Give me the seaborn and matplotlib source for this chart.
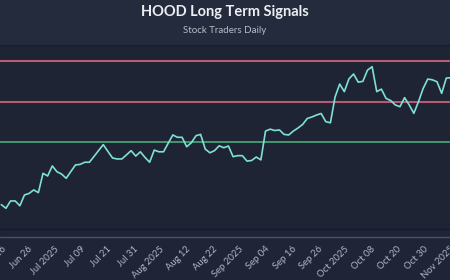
import numpy as np
import pandas as pd
import matplotlib
matplotlib.use("Agg")
import matplotlib.pyplot as plt
from matplotlib.lines import Line2D
from matplotlib.patches import Rectangle
import seaborn as sns

# ---- data ----
prices = [
    75.8, 73.9, 77.7, 77.7, 75.2, 80.8, 81.6, 83.4, 82.0, 92.0,
    90.6, 95.8, 92.8, 91.6, 89.4, 92.9, 96.3, 96.6, 97.7, 97.7,
    100.7, 103.8, 106.8, 103.3, 99.9, 99.4, 99.4, 101.5, 103.7, 100.9,
    103.1, 100.2, 97.7, 104.0, 103.1, 103.1, 107.5, 111.8, 110.6, 110.6,
    105.7, 107.8, 111.4, 112.1, 104.5, 102.6, 103.7, 106.2, 105.2, 106.1,
    100.6, 101.1, 101.1, 98.3, 98.6, 100.4, 98.9, 113.8, 114.8, 114.1,
    114.4, 112.1, 111.8, 113.8, 115.4, 117.2, 120.3, 121.1, 122.1, 122.9,
    118.7, 118.1, 131.4, 138.1, 134.2, 140.8, 143.3, 139.1, 139.5, 145.3,
    147.1, 134.2, 135.5, 130.7, 129.6, 127.3, 126.4, 131.1, 127.3, 123.0,
    129.0, 135.8, 140.7, 140.3, 139.3, 133.3, 141.2, 141.4,
]
resistance_levels = [150.0, 128.6]
support_levels = [108.1]
tick_labels = [
    "Jun 16", "Jun 26", "Jul 2025", "Jul 09", "Jul 21", "Jul 31",
    "Aug 2025", "Aug 12", "Aug 22", "Sep 2025", "Sep 04", "Sep 16",
    "Sep 26", "Oct 2025", "Oct 08", "Oct 20", "Oct 30", "Nov 2025",
]
title = "HOOD Long Term Signals"
subtitle = "Stock Traders Daily"

df = pd.DataFrame({"day": np.arange(len(prices)), "price": prices})

# ---- style ----
BG = "#1f2536"
PLOT_BG = "#1e2434"
BAND = "#242b3c"
LINE = "#7fe0d6"
RED = "#b85a72"
GREEN = "#4caa7c"
TICK = "#aeb6c6"

sns.set_theme(style="dark")
plt.rcParams["font.family"] = ["Lato", "DejaVu Sans"]

W, H = 450, 280
fig = plt.figure(figsize=(W / 100, H / 100), dpi=100, facecolor=BG)

# title band
fig.add_artist(Rectangle((0, 1 - 45 / H), 1, 45 / H, transform=fig.transFigure,
                         facecolor=BAND, edgecolor="none", zorder=0))

top_px, bot_px = 45, 229
ax = fig.add_axes([0, 1 - bot_px / H, 1, (bot_px - top_px) / H])
ax.set_facecolor(PLOT_BG)

for lv in resistance_levels:
    ax.axhline(lv, color=RED, lw=1.5, zorder=2)
for lv in support_levels:
    ax.axhline(lv, color=GREEN, lw=1.2, zorder=2)

sns.lineplot(data=df, x="day", y="price", ax=ax, color=LINE, lw=1.2, zorder=3)

ax.set_xlim(-0.28, 96.8)
ax.set_ylim(63.2, 158.3)

n_ticks = len(tick_labels)
step = 96.75 / (n_ticks - 1)
ax.set_xticks([k * step for k in range(n_ticks)])
ax.set_xticklabels(tick_labels, rotation=45, ha="right", va="top",
                   rotation_mode="anchor", color=TICK, fontsize=6.8)
ax.tick_params(axis="x", length=0, pad=11)
ax.set_yticks([])
ax.set_xlabel("")
ax.set_ylabel("")
ax.grid(False)
for s in ["left", "right"]:
    ax.spines[s].set_visible(False)
ax.spines["bottom"].set_color("#161b27")
ax.spines["bottom"].set_linewidth(1)
ax.spines["top"].set_color("#191e2a")
ax.spines["top"].set_linewidth(1)

# axis baseline below the plot area
fig.add_artist(Line2D([0, 1], [1 - 237 / H, 1 - 237 / H], transform=fig.transFigure,
                      color="#485267", lw=1))

fig.text(0.5, 1 - 12 / H, title, ha="center", va="center", color="#eceef2",
         fontsize=10.5, fontweight="bold")
fig.text(0.5, 1 - 30.5 / H, subtitle, ha="center", va="center", color="#b6bcc7",
         fontsize=7)

fig.savefig("out.png", dpi=100, facecolor=BG)
